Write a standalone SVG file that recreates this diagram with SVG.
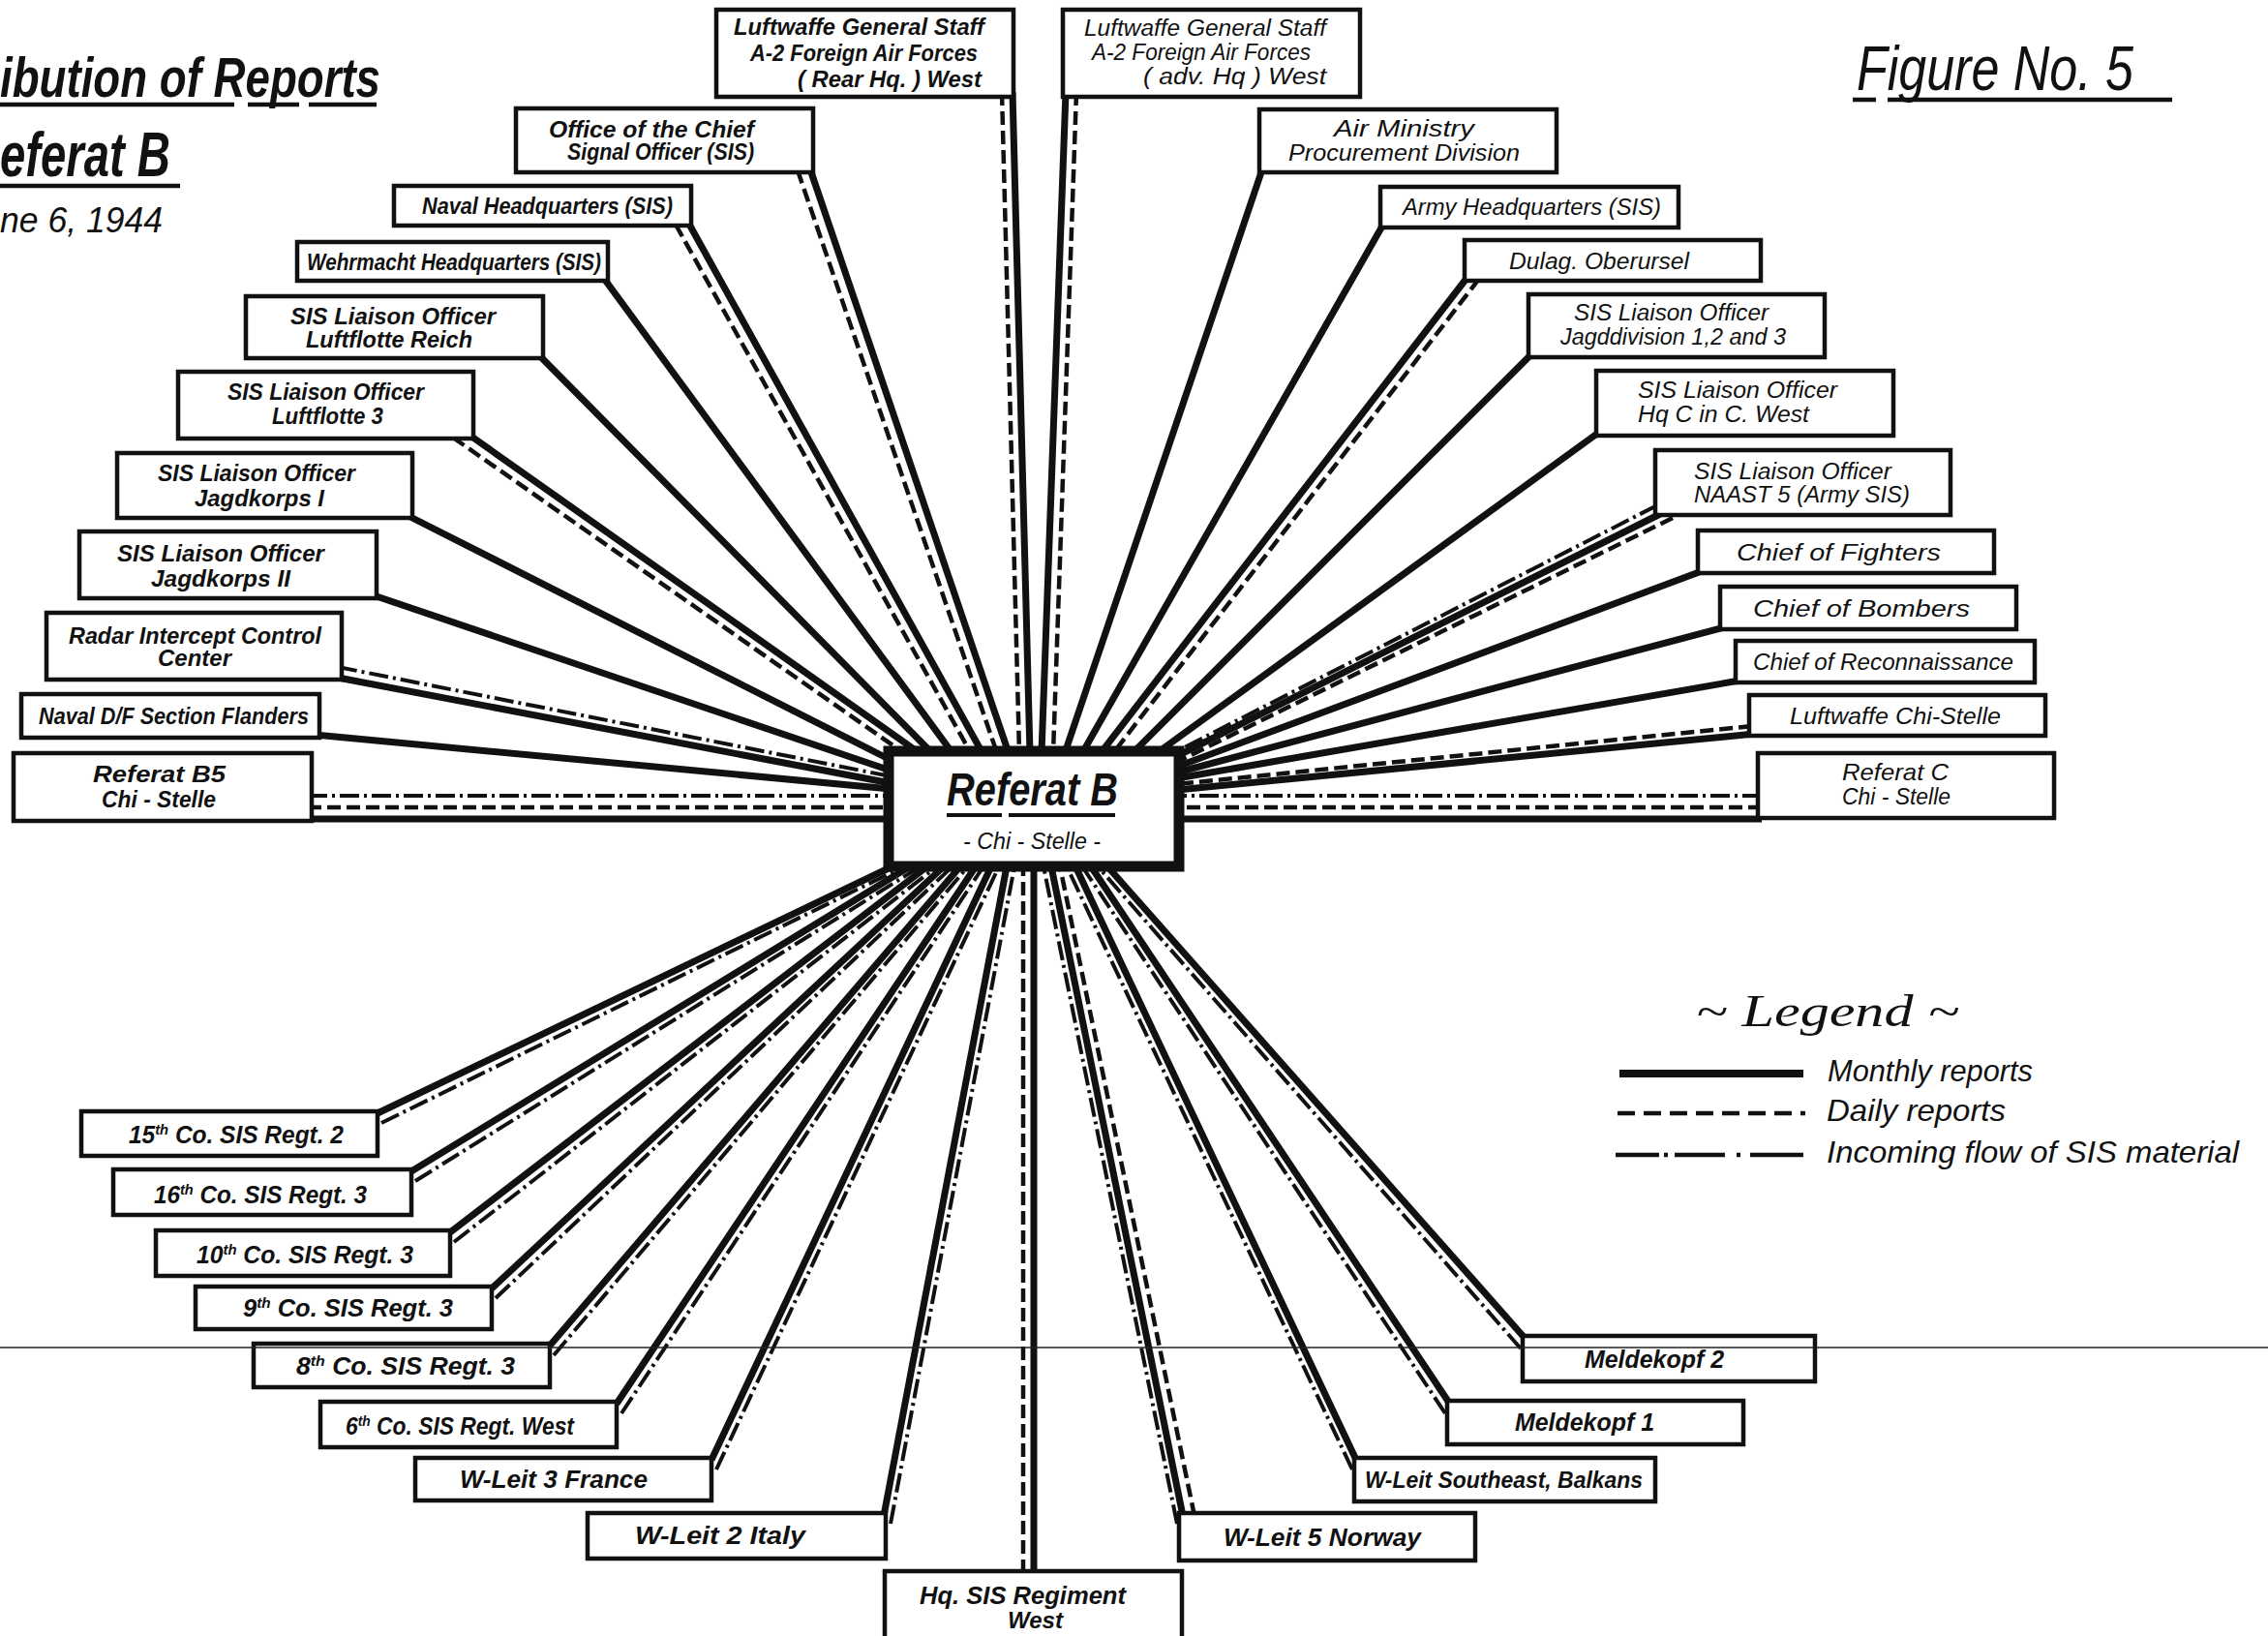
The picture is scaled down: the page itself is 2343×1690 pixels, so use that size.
<svg xmlns="http://www.w3.org/2000/svg" width="2343" height="1690" viewBox="0 0 2343 1690">
<style>
.box{fill:#fff;stroke:#111;stroke-width:4.5}
.cbox{fill:#fff;stroke:#111;stroke-width:11}
.m{fill:none;stroke:#111;stroke-width:7}
.d{fill:none;stroke:#111;stroke-width:4.5;stroke-dasharray:14 6}
.i{fill:none;stroke:#111;stroke-width:4;stroke-dasharray:20 5 3 5}
.u{fill:none;stroke:#111;stroke-width:4.5}
text{font-family:"Liberation Sans",Arial,sans-serif;font-style:italic;fill:#111}
.b{font-weight:bold}
.s20{font-size:23px}
.s21{font-size:24px}
.s22{font-size:25px}
</style>
<rect x="0" y="0" width="2343" height="1690" fill="#fff"/>

<g id="title">
<text class="b" x="0" y="100" font-size="58" textLength="393" lengthAdjust="spacingAndGlyphs">ibution of Reports</text>
<path class="u" d="M0,108 H242 M256,108 H309 M319,108 H389"/>
<text class="b" x="0" y="182" font-size="64" textLength="176" lengthAdjust="spacingAndGlyphs">eferat B</text>
<path class="u" d="M0,192 H186"/>
<text x="0" y="240" font-size="36" textLength="168" lengthAdjust="spacingAndGlyphs">ne 6, 1944</text>
<text x="1918" y="93" font-size="64" textLength="286" lengthAdjust="spacingAndGlyphs">Figure No. 5</text>
<path class="u" d="M1914,103 H1938 M1950,103 H2244"/>
</g>

<g id="connectors">
<path class="d" d="M1035,95 L1053,778"/>
<path class="m" d="M1046,95 L1064,778"/>
<path class="m" d="M836,172 L1042,778"/>
<path class="d" d="M824,176 L1030,778"/>
<path class="m" d="M710,228 L1015,778"/>
<path class="d" d="M698,232 L1003,778"/>
<path class="m" d="M622,285 L984,778"/>
<path class="m" d="M555,365 L963,778"/>
<path class="m" d="M483,448 L950,778"/>
<path class="d" d="M468,452 L934,778"/>
<path class="m" d="M420,532 L920,785"/>
<path class="m" d="M383,614 L920,796"/>
<path class="i" d="M349,689 L920,802"/>
<path class="m" d="M349,700 L920,809"/>
<path class="m" d="M325,759 L920,815"/>
<path class="i" d="M318,822 L920,822"/>
<path class="d" d="M318,834 L920,834"/>
<path class="m" d="M318,846 L920,846"/>
<path class="m" d="M1101,95 L1076,778"/>
<path class="d" d="M1112,95 L1088,778"/>
<path class="m" d="M1305,172 L1100,778"/>
<path class="m" d="M1430,230 L1118,778"/>
<path class="m" d="M1517,285 L1137,778"/>
<path class="d" d="M1528,288 L1150,778"/>
<path class="m" d="M1584,364 L1170,778"/>
<path class="m" d="M1654,445 L1195,778"/>
<path class="i" d="M1712,522 L1216,776"/>
<path class="m" d="M1715,531 L1216,781"/>
<path class="d" d="M1728,535 L1216,787"/>
<path class="m" d="M1758,590 L1216,792"/>
<path class="m" d="M1781,648 L1216,798"/>
<path class="m" d="M1797,703 L1216,804"/>
<path class="d" d="M1810,750 L1216,810"/>
<path class="m" d="M1813,758 L1216,816"/>
<path class="i" d="M1820,822 L1216,822"/>
<path class="d" d="M1820,834 L1216,834"/>
<path class="m" d="M1820,846 L1216,846"/>
<path class="m" d="M390,1150 L922,895"/>
<path class="i" d="M394,1160 L934,895"/>
<path class="m" d="M425,1210 L940,895"/>
<path class="i" d="M429,1220 L951,895"/>
<path class="m" d="M465,1273 L958,895"/>
<path class="i" d="M469,1283 L968,895"/>
<path class="m" d="M508,1331 L975,895"/>
<path class="i" d="M512,1341 L984,895"/>
<path class="m" d="M568,1390 L992,895"/>
<path class="i" d="M572,1400 L1000,895"/>
<path class="m" d="M637,1450 L1008,895"/>
<path class="i" d="M642,1460 L1016,895"/>
<path class="m" d="M735,1508 L1024,895"/>
<path class="i" d="M740,1518 L1032,895"/>
<path class="m" d="M913,1566 L1040,895"/>
<path class="i" d="M920,1574 L1048,895"/>
<path class="d" d="M1057,1625 L1057,895"/>
<path class="m" d="M1068,1625 L1068,895"/>
<path class="i" d="M1216,1574 L1078,895"/>
<path class="m" d="M1222,1566 L1086,895"/>
<path class="d" d="M1234,1566 L1095,895"/>
<path class="i" d="M1397,1518 L1102,895"/>
<path class="m" d="M1401,1508 L1111,895"/>
<path class="i" d="M1493,1460 L1118,895"/>
<path class="m" d="M1497,1449 L1127,895"/>
<path class="i" d="M1571,1393 L1134,895"/>
<path class="m" d="M1575,1382 L1144,895"/>
</g>

<g id="referat-b">
<rect class="cbox" x="918" y="776" width="300" height="119"/>
<text class="b" x="978" y="832" font-size="48" textLength="177" lengthAdjust="spacingAndGlyphs">Referat B</text>
<path fill="none" stroke="#111" stroke-width="4" d="M978,842 H1035 M1042,842 H1152"/>
<text x="995" y="877" font-size="24" textLength="142" lengthAdjust="spacingAndGlyphs">- Chi - Stelle -</text>
</g>

<g id="n-lw-rear"><rect class="box" x="740" y="10" width="307" height="90"/>
<text class="b s20" x="758" y="36" textLength="259" lengthAdjust="spacingAndGlyphs">Luftwaffe General Staff</text>
<text class="b s20" x="775" y="63" textLength="235" lengthAdjust="spacingAndGlyphs">A-2 Foreign Air Forces</text>
<text class="b s20" x="824" y="90" textLength="190" lengthAdjust="spacingAndGlyphs">( Rear Hq. ) West</text></g>
<g id="n-chief-signal"><rect class="box" x="533" y="112" width="307" height="66"/>
<text class="b s20" x="567" y="142" textLength="212" lengthAdjust="spacingAndGlyphs">Office of the Chief</text>
<text class="b s20" x="586" y="165" textLength="193" lengthAdjust="spacingAndGlyphs">Signal Officer (SIS)</text></g>
<g id="n-naval-hq"><rect class="box" x="407" y="192" width="307" height="41"/>
<text class="b s21" x="436" y="221" textLength="259" lengthAdjust="spacingAndGlyphs">Naval Headquarters (SIS)</text></g>
<g id="n-wehrmacht-hq"><rect class="box" x="307" y="250" width="321" height="40"/>
<text class="b s21" x="317" y="279" textLength="304" lengthAdjust="spacingAndGlyphs">Wehrmacht Headquarters (SIS)</text></g>
<g id="n-lf-reich"><rect class="box" x="254" y="306" width="307" height="64"/>
<text class="b s20" x="300" y="335" textLength="212" lengthAdjust="spacingAndGlyphs">SIS Liaison Officer</text>
<text class="b s20" x="316" y="359" textLength="172" lengthAdjust="spacingAndGlyphs">Luftflotte Reich</text></g>
<g id="n-lf-3"><rect class="box" x="184" y="384" width="305" height="69"/>
<text class="b s20" x="235" y="413" textLength="203" lengthAdjust="spacingAndGlyphs">SIS Liaison Officer</text>
<text class="b s20" x="281" y="438" textLength="115" lengthAdjust="spacingAndGlyphs">Luftflotte 3</text></g>
<g id="n-jk-1"><rect class="box" x="121" y="468" width="305" height="67"/>
<text class="b s20" x="163" y="497" textLength="204" lengthAdjust="spacingAndGlyphs">SIS Liaison Officer</text>
<text class="b s20" x="201" y="523" textLength="134" lengthAdjust="spacingAndGlyphs">Jagdkorps I</text></g>
<g id="n-jk-2"><rect class="box" x="82" y="549" width="307" height="69"/>
<text class="b s20" x="121" y="580" textLength="214" lengthAdjust="spacingAndGlyphs">SIS Liaison Officer</text>
<text class="b s20" x="156" y="606" textLength="144" lengthAdjust="spacingAndGlyphs">Jagdkorps II</text></g>
<g id="n-radar"><rect class="box" x="48" y="633" width="305" height="69"/>
<text class="b s20" x="71" y="665" textLength="261" lengthAdjust="spacingAndGlyphs">Radar Intercept Control</text>
<text class="b s20" x="163" y="688" textLength="76" lengthAdjust="spacingAndGlyphs">Center</text></g>
<g id="n-naval-df"><rect class="box" x="22" y="717" width="308" height="45"/>
<text class="b s21" x="40" y="748" textLength="279" lengthAdjust="spacingAndGlyphs">Naval D/F Section Flanders</text></g>
<g id="n-referat-b5"><rect class="box" x="14" y="778" width="308" height="70"/>
<text class="b s21" x="96" y="808" textLength="137" lengthAdjust="spacingAndGlyphs">Referat B5</text>
<text class="b s20" x="105" y="834" textLength="118" lengthAdjust="spacingAndGlyphs">Chi - Stelle</text></g>

<g id="n-lw-adv"><rect class="box" x="1098" y="10" width="307" height="90"/>
<text class="s20" x="1120" y="37" textLength="250" lengthAdjust="spacingAndGlyphs">Luftwaffe General Staff</text>
<text class="s20" x="1128" y="62" textLength="226" lengthAdjust="spacingAndGlyphs">A-2 Foreign Air Forces</text>
<text class="s20" x="1181" y="87" textLength="189" lengthAdjust="spacingAndGlyphs">( adv. Hq ) West</text></g>
<g id="n-air-ministry"><rect class="box" x="1301" y="113" width="307" height="65"/>
<text class="s20" x="1378" y="141" textLength="145" lengthAdjust="spacingAndGlyphs">Air Ministry</text>
<text class="s20" x="1331" y="166" textLength="239" lengthAdjust="spacingAndGlyphs">Procurement Division</text></g>
<g id="n-army-hq"><rect class="box" x="1426" y="193" width="308" height="42"/>
<text class="s21" x="1449" y="222" textLength="267" lengthAdjust="spacingAndGlyphs">Army Headquarters (SIS)</text></g>
<g id="n-dulag"><rect class="box" x="1513" y="248" width="306" height="42"/>
<text class="s21" x="1559" y="278" textLength="186" lengthAdjust="spacingAndGlyphs">Dulag. Oberursel</text></g>
<g id="n-jagddiv"><rect class="box" x="1579" y="304" width="306" height="65"/>
<text class="s20" x="1626" y="331" textLength="201" lengthAdjust="spacingAndGlyphs">SIS Liaison Officer</text>
<text class="s20" x="1612" y="356" textLength="233" lengthAdjust="spacingAndGlyphs">Jagddivision 1,2 and 3</text></g>
<g id="n-hq-cinc"><rect class="box" x="1649" y="383" width="307" height="67"/>
<text class="s20" x="1692" y="411" textLength="206" lengthAdjust="spacingAndGlyphs">SIS Liaison Officer</text>
<text class="s20" x="1692" y="436" textLength="177" lengthAdjust="spacingAndGlyphs">Hq C in C. West</text></g>
<g id="n-naast"><rect class="box" x="1710" y="465" width="305" height="67"/>
<text class="s20" x="1750" y="495" textLength="204" lengthAdjust="spacingAndGlyphs">SIS Liaison Officer</text>
<text class="s20" x="1750" y="519" textLength="223" lengthAdjust="spacingAndGlyphs">NAAST 5 (Army SIS)</text></g>
<g id="n-fighters"><rect class="box" x="1754" y="548" width="306" height="44"/>
<text class="s21" x="1794" y="579" textLength="211" lengthAdjust="spacingAndGlyphs">Chief of Fighters</text></g>
<g id="n-bombers"><rect class="box" x="1777" y="606" width="306" height="44"/>
<text class="s21" x="1811" y="637" textLength="224" lengthAdjust="spacingAndGlyphs">Chief of Bombers</text></g>
<g id="n-recon"><rect class="box" x="1793" y="662" width="309" height="43"/>
<text class="s21" x="1811" y="692" textLength="269" lengthAdjust="spacingAndGlyphs">Chief of Reconnaissance</text></g>
<g id="n-lw-chi"><rect class="box" x="1807" y="718" width="306" height="42"/>
<text class="s21" x="1849" y="748" textLength="218" lengthAdjust="spacingAndGlyphs">Luftwaffe Chi-Stelle</text></g>
<g id="n-referat-c"><rect class="box" x="1816" y="778" width="306" height="67"/>
<text class="s21" x="1903" y="806" textLength="110" lengthAdjust="spacingAndGlyphs">Referat C</text>
<text class="s20" x="1903" y="831" textLength="112" lengthAdjust="spacingAndGlyphs">Chi - Stelle</text></g>

<g id="n-15co"><rect class="box" x="84" y="1148" width="306" height="46"/>
<text class="b s22" x="133" y="1181" textLength="222" lengthAdjust="spacingAndGlyphs">15<tspan font-size="15" dy="-9">th</tspan><tspan dy="9"> Co. SIS Regt. 2</tspan></text></g>
<g id="n-16co"><rect class="box" x="117" y="1208" width="308" height="47"/>
<text class="b s22" x="159" y="1243" textLength="220" lengthAdjust="spacingAndGlyphs">16<tspan font-size="15" dy="-9">th</tspan><tspan dy="9"> Co. SIS Regt. 3</tspan></text></g>
<g id="n-10co"><rect class="box" x="161" y="1271" width="304" height="47"/>
<text class="b s22" x="203" y="1305" textLength="224" lengthAdjust="spacingAndGlyphs">10<tspan font-size="15" dy="-9">th</tspan><tspan dy="9"> Co. SIS Regt. 3</tspan></text></g>
<g id="n-9co"><rect class="box" x="202" y="1329" width="306" height="44"/>
<text class="b s22" x="251" y="1360" textLength="217" lengthAdjust="spacingAndGlyphs">9<tspan font-size="15" dy="-9">th</tspan><tspan dy="9"> Co. SIS Regt. 3</tspan></text></g>
<g id="n-8co"><rect class="box" x="262" y="1388" width="306" height="45"/>
<text class="b s22" x="306" y="1420" textLength="226" lengthAdjust="spacingAndGlyphs">8<tspan font-size="15" dy="-9">th</tspan><tspan dy="9"> Co. SIS Regt. 3</tspan></text></g>
<g id="n-6co"><rect class="box" x="331" y="1448" width="306" height="47"/>
<text class="b s22" x="357" y="1482" textLength="236" lengthAdjust="spacingAndGlyphs">6<tspan font-size="15" dy="-9">th</tspan><tspan dy="9"> Co. SIS Regt. West</tspan></text></g>
<g id="n-wleit3"><rect class="box" x="429" y="1506" width="306" height="44"/>
<text class="b s22" x="475" y="1537" textLength="194" lengthAdjust="spacingAndGlyphs">W-Leit 3 France</text></g>
<g id="n-wleit2"><rect class="box" x="607" y="1563" width="308" height="47"/>
<text class="b s22" x="656" y="1595" textLength="176" lengthAdjust="spacingAndGlyphs">W-Leit 2 Italy</text></g>
<g id="n-hq-sis"><rect class="box" x="914" y="1623" width="307" height="80"/>
<text class="b s22" x="950" y="1657" textLength="213" lengthAdjust="spacingAndGlyphs">Hq. SIS Regiment</text>
<text class="b s20" x="1041" y="1682" textLength="57" lengthAdjust="spacingAndGlyphs">West</text></g>
<g id="n-wleit5"><rect class="box" x="1218" y="1563" width="306" height="49"/>
<text class="b s22" x="1264" y="1597" textLength="204" lengthAdjust="spacingAndGlyphs">W-Leit 5 Norway</text></g>
<g id="n-wleit-se"><rect class="box" x="1399" y="1506" width="311" height="45"/>
<text class="b s21" x="1410" y="1537" textLength="287" lengthAdjust="spacingAndGlyphs">W-Leit Southeast, Balkans</text></g>
<g id="n-mk1"><rect class="box" x="1495" y="1447" width="306" height="45"/>
<text class="b s22" x="1565" y="1478" textLength="144" lengthAdjust="spacingAndGlyphs">Meldekopf 1</text></g>
<g id="n-mk2"><rect class="box" x="1573" y="1380" width="302" height="47"/>
<text class="b s22" x="1637" y="1413" textLength="144" lengthAdjust="spacingAndGlyphs">Meldekopf 2</text></g>

<g id="legend">
<text x="1752" y="1060" font-size="46" style="font-family:'Liberation Serif',serif" textLength="272" lengthAdjust="spacingAndGlyphs">~ Legend ~</text>
<path fill="none" stroke="#111" stroke-width="8" d="M1673,1109 H1863"/>
<path fill="none" stroke="#111" stroke-width="4.5" stroke-dasharray="18 9" d="M1671,1150 H1865"/>
<path fill="none" stroke="#111" stroke-width="4.5" d="M1669,1193 H1714 M1719,1193 H1723 M1730,1193 H1782 M1794,1193 H1798 M1808,1193 H1863"/>
<text x="1888" y="1117" font-size="32" textLength="212" lengthAdjust="spacingAndGlyphs">Monthly reports</text>
<text x="1887" y="1158" font-size="32" textLength="185" lengthAdjust="spacingAndGlyphs">Daily reports</text>
<text x="1887" y="1201" font-size="32" textLength="426" lengthAdjust="spacingAndGlyphs">Incoming flow of SIS material</text>
</g>

<path d="M0,1392 H2343" fill="none" stroke="#222" stroke-width="1.5"/>
</svg>
